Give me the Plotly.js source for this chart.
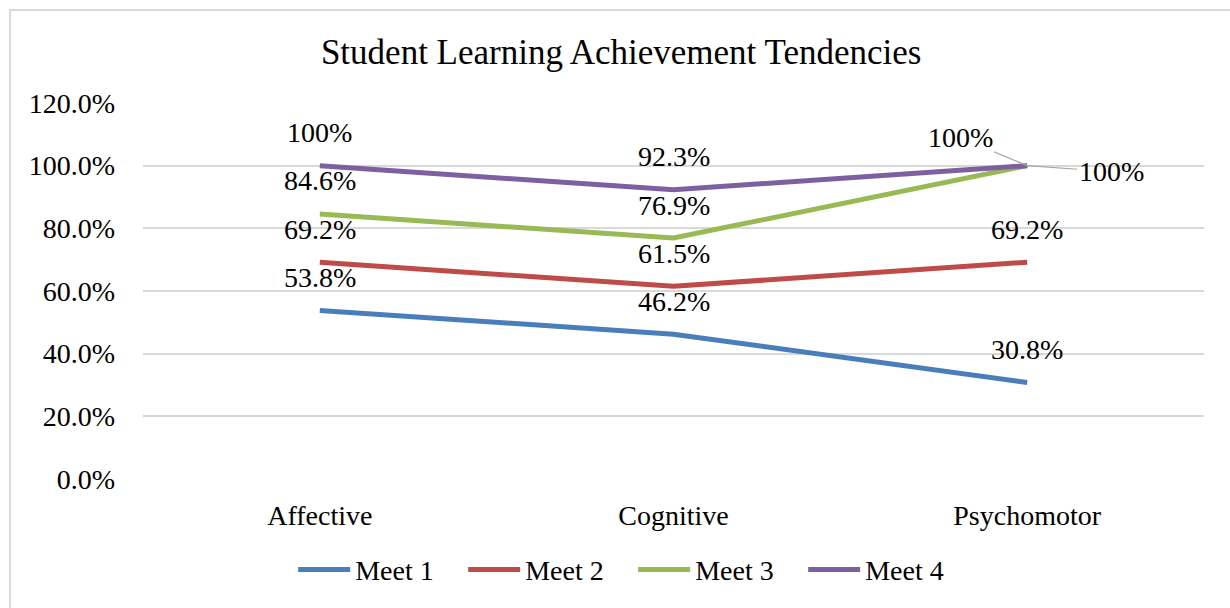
<!DOCTYPE html>
<html>
<head>
<meta charset="utf-8">
<script src="https://cdn.plot.ly/plotly-3.0.1.min.js"></script>
<style>
html,body{margin:0;padding:0;background:#fff;}
#wrap{position:relative;width:1230px;height:608px;overflow:hidden;}
#chart{width:1230px;height:608px;}
#frame{position:absolute;left:9px;top:9px;width:1240px;height:620px;border:2px solid #d9d9d9;box-sizing:border-box;pointer-events:none;}
</style>
</head>
<body>
<div id="wrap"><div id="chart"></div><div id="frame"></div></div>
<script>
var categories = ["Affective", "Cognitive", "Psychomotor"];
var seriesNames = ["Meet 1", "Meet 2", "Meet 3", "Meet 4"];
var meet1 = [53.8, 46.2, 30.8];
var meet2 = [69.2, 61.5, 69.2];
var meet3 = [84.6, 76.9, 100];
var meet4 = [100, 92.3, 100];
var labels1 = ["53.8%", "46.2%", "30.8%"];
var labels2 = ["69.2%", "61.5%", "69.2%"];
var labels3 = ["84.6%", "76.9%", "100%"];
var labels4 = ["100%", "92.3%", "100%"];
var yTickVals = [0, 20, 40, 60, 80, 100, 120];
var yTickText = ["0.0%", "20.0%", "40.0%", "60.0%", "80.0%", "100.0%", "120.0%"];

var colors = ["#4a7ebb", "#be4b48", "#98b954", "#7d60a0"];
var allValues = [meet1, meet2, meet3, meet4];
var allLabels = [labels1, labels2, labels3, labels4];
var FONT = "'Liberation Serif', 'Times New Roman', serif";
var FS = 28;

var traces = allValues.map(function (vals, i) {
  return {
    type: "scatter", mode: "lines", name: seriesNames[i],
    x: categories, y: vals,
    line: {color: colors[i], width: 5},
    hoverinfo: "skip"
  };
});

var annotations = [];
allValues.forEach(function (vals, i) {
  vals.forEach(function (v, j) {
    var a = {
      x: categories[j], y: v, xref: "x", yref: "y",
      text: allLabels[i][j],
      font: {family: FONT, size: FS, color: "#000"},
      showarrow: false, yshift: 33
    };
    // Psychomotor leader-line labels for Meet 3 and Meet 4
    if (j === 2 && i === 2) {
      a = {x: categories[j], y: v, xref: "x", yref: "y", text: allLabels[i][j],
        font: {family: FONT, size: FS, color: "#000"},
        showarrow: true, arrowhead: 0, arrowwidth: 1.2, arrowcolor: "#a6a6a6",
        ax: -67, ay: -28, standoff: 0};
    }
    if (j === 2 && i === 3) {
      a = {x: categories[j], y: v, xref: "x", yref: "y", text: allLabels[i][j],
        font: {family: FONT, size: FS, color: "#000"},
        showarrow: true, arrowhead: 0, arrowwidth: 1.2, arrowcolor: "#a6a6a6",
        ax: 84, ay: 6, standoff: 0};
    }
    annotations.push(a);
  });
});

var layout = {
  width: 1230, height: 608,
  margin: {l: 143, r: 26, t: 103, b: 129},
  paper_bgcolor: "#fff", plot_bgcolor: "#fff",
  font: {family: FONT, size: FS, color: "#000"},
  title: {text: "Student Learning Achievement Tendencies", font: {family: FONT, size: 35, color: "#000"},
    x: 0.505, xanchor: "center", y: 0.915, yanchor: "middle"},
  xaxis: {
    type: "category", range: [-0.5, 2.5], showgrid: false, zeroline: false,
    showline: false, ticks: "", ticklabelstandoff: 17,
    tickfont: {family: FONT, size: FS, color: "#000"}
  },
  yaxis: {
    range: [0, 120], tickvals: yTickVals, ticktext: yTickText,
    showgrid: true, gridcolor: "#d9d9d9", gridwidth: 2, zeroline: false,
    showline: false, ticks: "", ticklabelstandoff: 27,
    tickfont: {family: FONT, size: FS, color: "#000"}
  },
  showlegend: true,
  legend: {
    orientation: "h", x: 0.462, xanchor: "center", y: -0.175, yanchor: "top",
    font: {family: FONT, size: FS, color: "#000"},
    entrywidth: 103, entrywidthmode: "pixels", itemwidth: 52,
    bgcolor: "rgba(0,0,0,0)"
  },
  annotations: annotations
};

Plotly.newPlot("chart", traces, layout, {displayModeBar: false, staticPlot: true});
</script>
</body>
</html>
